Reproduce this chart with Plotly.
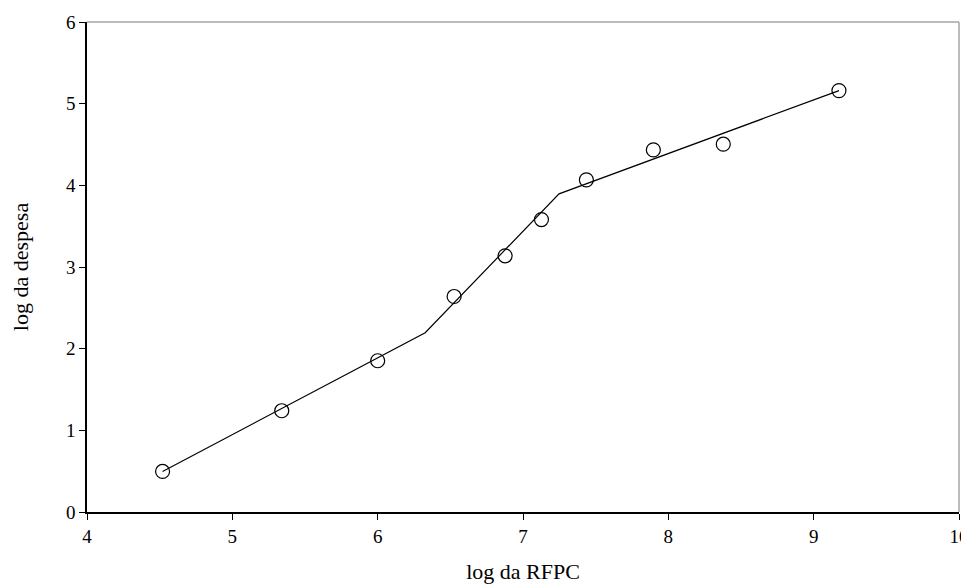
import plotly.graph_objects as go

x_points = [4.52, 5.34, 6.00, 6.526, 6.877, 7.127, 7.436, 7.897, 8.378, 9.174]
y_points = [0.497, 1.24, 1.852, 2.639, 3.137, 3.581, 4.067, 4.434, 4.504, 5.16]

x_line = [4.52, 6.327, 7.248, 9.174]
y_line = [0.497, 2.195, 3.896, 5.16]

x_ticks = [4, 5, 6, 7, 8, 9, 10]
y_ticks = [0, 1, 2, 3, 4, 5, 6]

fig = go.Figure()
fig.add_trace(go.Scatter(x=x_line, y=y_line, mode="lines",
                         line=dict(color="black", width=1.2), showlegend=False,
                         hoverinfo="skip", cliponaxis=False))
fig.add_trace(go.Scatter(x=x_points, y=y_points, mode="markers",
                         marker=dict(symbol="circle-open", size=14,
                                     color="black", line=dict(width=1.2)),
                         showlegend=False, cliponaxis=False))
# top/right gray border
fig.add_shape(type="line", xref="paper", yref="paper", x0=0, x1=1, y0=1, y1=1,
              line=dict(color="#a6a6a6", width=1.5))
fig.add_shape(type="line", xref="paper", yref="paper", x0=1, x1=1, y0=0, y1=1,
              line=dict(color="#a6a6a6", width=1.5))

font = dict(family="Liberation Serif", size=19, color="black")
fig.update_layout(
    width=961, height=579,
    margin=dict(l=79, r=10, t=14, b=75),
    paper_bgcolor="white", plot_bgcolor="white",
    font=font,
    xaxis=dict(range=[4, 10], tickvals=x_ticks, showgrid=False, zeroline=False,
               showline=True, linecolor="black", linewidth=1.5,
               ticks="outside", ticklen=6, tickcolor="black",
               tickfont=dict(size=19), automargin=False,
               title=dict(text="log da RFPC", font=dict(size=22), standoff=18)),
    yaxis=dict(range=[0, 6], tickvals=y_ticks, showgrid=False, zeroline=False,
               showline=True, linecolor="black", linewidth=1.5,
               ticks="outside", ticklen=6, tickcolor="black",
               tickfont=dict(size=19), automargin=False,
               title=dict(text="log da despesa", font=dict(size=22), standoff=32)),
)
fig.write_html("out.html")
